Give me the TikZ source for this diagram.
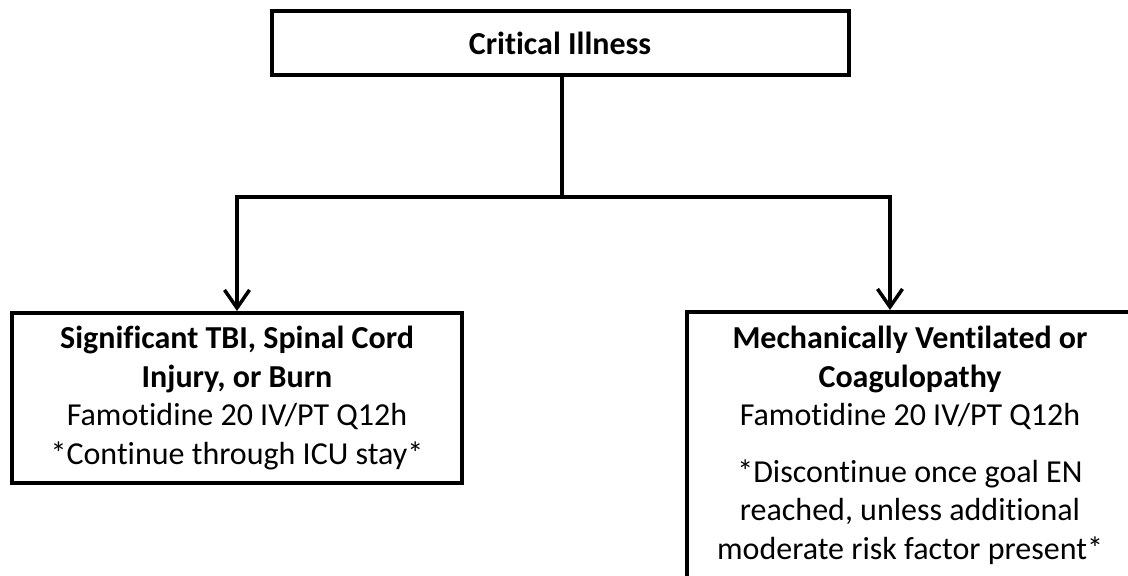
\documentclass[tikz,border=0pt]{standalone}
\usepackage{fontspec}
\setmainfont{Carlito}[Ligatures={NoCommon}]
\usetikzlibrary{arrows.meta}
\begin{document}
\begin{tikzpicture}[x=1pt,y=-1pt,
  box/.style={draw,line width=4pt,align=center,inner sep=0pt,font=\fontsize{32}{38.5}\selectfont},
  arrow/.style={line width=3.5pt,-{Straight Barb[length=18pt,width=25pt]}}]
\useasboundingbox (0,0) rectangle (1128,576);
\node[box,minimum width=577pt,minimum height=64pt] (crit) at (560,43) {\textbf{Critical Illness}};
\node[box,minimum width=450pt,minimum height=170pt] (tbi) at (237,398)
  {\textbf{Significant TBI, Spinal Cord}\\ \textbf{Injury, or Burn}\\ Famotidine 20 IV/PT Q12h\\ *Continue through ICU stay*};
\node[box,minimum width=446pt,minimum height=267pt] (mv) at (910,445.5)
  {\textbf{Mechanically Ventilated or}\\ \textbf{Coagulopathy}\\ Famotidine 20 IV/PT Q12h\\[18pt] *Discontinue once goal EN\\ reached, unless additional\\ moderate risk factor present*};
\coordinate (split) at (562,197);
\coordinate (mvin) at ([xshift=-20pt]mv.north);
\draw[line width=3.5pt] (crit.south -| split) -- (split);
\draw[arrow] (split) -| (tbi.north);
\draw[arrow] (split) -| (mvin);
\end{tikzpicture}
\end{document}
